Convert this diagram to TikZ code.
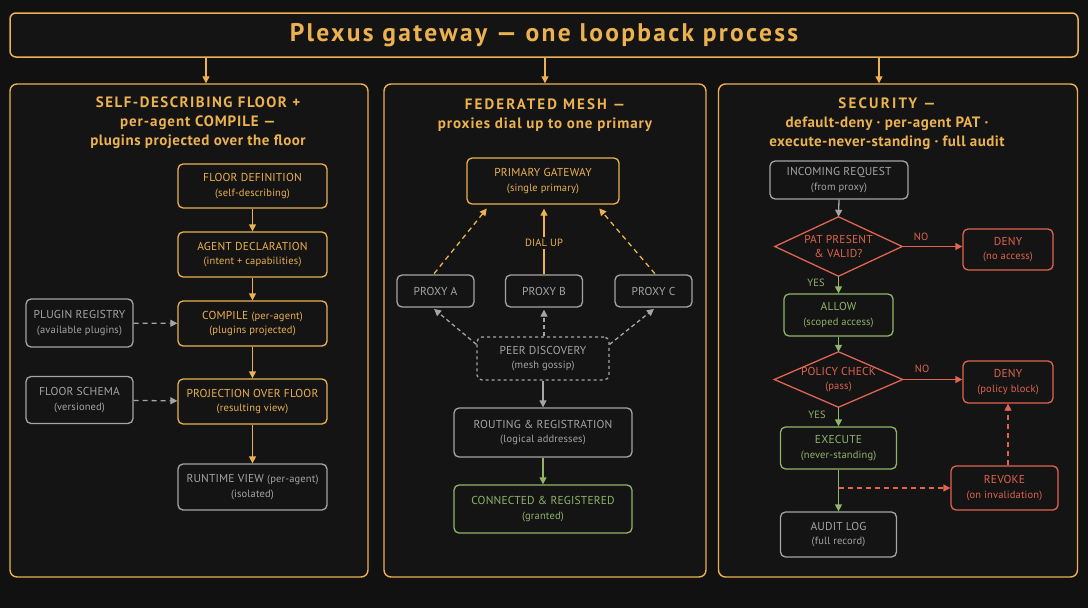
\documentclass[tikz,border=0pt]{standalone}
\usepackage{fontspec}
\setmainfont{PT Sans}
\newfontfamily\hdrfont{PT Sans}[LetterSpace=6]
\newfontfamily\ttlfont{PT Sans}[LetterSpace=9]
\newfontfamily\ndfont{PT Sans}[LetterSpace=1.5]
\newcommand\ls[1]{\addfontfeature{LetterSpace=#1}}
\usetikzlibrary{arrows.meta}
\definecolor{bg}{RGB}{17,17,17}
\definecolor{panelbg}{RGB}{20,20,20}
\definecolor{gold}{RGB}{236,178,80}
\definecolor{mygrey}{RGB}{165,165,165}
\definecolor{mygreen}{RGB}{145,180,105}
\definecolor{myred}{RGB}{224,100,80}
\newcommand\subf{\fontsize{10.5}{14}\selectfont}
\begin{document}
\begin{tikzpicture}[x=1pt,y=-1pt,
  panel/.style={draw=gold, line width=1.4pt, rounded corners=7pt, fill=panelbg, inner sep=0pt},
  hdr/.style={text=gold, align=center, font=\hdrfont\bfseries\fontsize{15}{19}\selectfont, inner sep=0pt},
  box/.style={draw, rounded corners=5pt, line width=1.3pt, fill=panelbg, align=center, inner sep=0pt, font=\ndfont\fontsize{11.5}{14.5}\selectfont},
  goldbox/.style={box, draw=gold, text=gold},
  greybox/.style={box, draw=mygrey, text=mygrey},
  greenbox/.style={box, draw=mygreen, text=mygreen},
  redbox/.style={box, draw=myred, text=myred},
  dia/.style={text=myred, align=center, inner sep=0pt, font=\ndfont\fontsize{11.5}{14.5}\selectfont},
  diaedge/.style={draw=myred, line width=1.3pt, fill=panelbg, line join=miter},
  lbl/.style={font=\ndfont\fontsize{10.5}{13}\selectfont, inner sep=2pt},
  tip/.style={-{Triangle[length=7pt,width=7pt]}},
  garrow/.style={tip, draw=gold, line width=1.3pt},
  grarrow/.style={tip, draw=mygrey, line width=1.3pt},
  gnarrow/.style={tip, draw=mygreen, line width=1.3pt},
  rdarrow/.style={tip, draw=myred, line width=1.3pt},
  dsh/.style={dash pattern=on 5pt off 4pt}
]
\fill[bg] (0,0) rectangle (1088,608);
\useasboundingbox (0,0) rectangle (1088,608);

% title
\node[draw=gold, rounded corners=6pt, line width=1.5pt, fill=panelbg, minimum width=1068, minimum height=44, text=gold, font=\ttlfont\bfseries\fontsize{25.5}{30}\selectfont] (title) at (544,35) {Plexus gateway — one loopback process};

% panels
\node[panel, minimum width=358, minimum height=493] (lp) at (189,330.5) {};
\node[panel, minimum width=322, minimum height=493] (mp) at (545,330.5) {};
\node[panel, minimum width=359, minimum height=493] (rp) at (898,330.5) {};

\coordinate (a1) at (206,0);
\coordinate (a2) at (545,0);
\coordinate (a3) at (879,0);
\draw[garrow] (title.south -| a1) -- (lp.north -| a1);
\draw[garrow] (title.south -| a2) -- (mp.north -| a2);
\draw[garrow] (title.south -| a3) -- (rp.north -| a3);

% headers
\node[hdr] (lh) at (198,123) {{\ls{10}SELF-DESCRIBING FLOOR +}\\{\ls{6}per-agent COMPILE —}\\{\ls{3.5}plugins projected over the floor}};
\node[hdr] (mh) at (545,115.5) {{\ls{14}FEDERATED MESH —}\\{\ls{6}proxies dial up to one primary}};
\node[hdr] (rh) at (887,123.5) {{\ls{15}SECURITY —}\\{\ls{3}default-deny · per-agent PAT ·}\\{\ls{3}execute-never-standing · full audit}};

% left panel
\node[goldbox, minimum width=149, minimum height=44] (fd) at (252.5,186) {FLOOR DEFINITION\\{\subf (self-describing)}};
\node[goldbox, minimum width=149, minimum height=45] (ad) at (252.5,254.5) {AGENT DECLARATION\\{\subf (intent + capabilities)}};
\node[goldbox, minimum width=149, minimum height=45] (cp) at (252.5,323.5) {COMPILE {\subf (per-agent)}\\{\subf (plugins projected)}};
\node[goldbox, minimum width=149, minimum height=45] (pj) at (252.5,401.5) {PROJECTION OVER FLOOR\\{\subf (resulting view)}};
\node[greybox, minimum width=149, minimum height=46] (rv) at (252.5,487) {RUNTIME VIEW {\subf (per-agent)}\\{\subf (isolated)}};
\node[greybox, minimum width=107, minimum height=48] (pr) at (79.5,323) {PLUGIN REGISTRY\\{\subf (available plugins)}};
\node[greybox, minimum width=107, minimum height=47] (fs) at (79.5,400) {FLOOR SCHEMA\\{\subf (versioned)}};

\draw[garrow] (fd) -- (ad);
\draw[garrow] (ad) -- (cp);
\draw[garrow] (cp) -- (pj);
\draw[garrow] (pj) -- (rv);
\draw[grarrow, dsh] (pr) -- (cp);
\draw[grarrow, dsh] (fs) -- (pj);

% middle panel
\node[goldbox, minimum width=152, minimum height=46] (pg) at (543,181) {PRIMARY GATEWAY\\{\subf (single primary)}};
\node[greybox, minimum width=77, minimum height=32] (pa) at (435.5,291) {PROXY A};
\node[greybox, minimum width=77, minimum height=32] (pb) at (544,291) {PROXY B};
\node[greybox, minimum width=77, minimum height=32] (pc) at (653.5,291) {PROXY C};
\node[lbl, text=gold, fill=panelbg] (du) at (544,243) {DIAL UP};
\draw[gold, line width=1.3pt] (pb.north) -- (du.south);
\draw[garrow, shorten >=4pt] (du.north) -- (du.north |- pg.south);
\draw[garrow, dsh, shorten >=5pt, shorten <=1pt] ([xshift=-2pt]pa.north) -- ([xshift=-53pt]pg.south);
\draw[garrow, dsh, shorten >=5pt, shorten <=1pt] ([xshift=2pt]pc.north) -- ([xshift=53pt]pg.south);

\node[greybox, dashed, minimum width=132, minimum height=43] (pd) at (543,358.5) {PEER DISCOVERY\\{\subf (mesh gossip)}};
\draw[grarrow, dash pattern=on 4pt off 3pt, shorten >=2pt] ([yshift=-8pt]pd.north west) -- ([xshift=-3pt]pa.south);
\draw[grarrow, dash pattern=on 4pt off 3pt, shorten >=2pt] (pd.north -| pb.south) -- (pb.south);
\draw[grarrow, dash pattern=on 4pt off 3pt, shorten >=2pt] ([yshift=-8pt]pd.north east) -- ([xshift=2pt]pc.south);

\node[greybox, minimum width=178, minimum height=49] (rr) at (543,432.5) {ROUTING \& REGISTRATION\\{\subf (logical addresses)}};
\node[greenbox, minimum width=178, minimum height=48] (cr) at (543,509) {CONNECTED \& REGISTERED\\{\subf (granted)}};
\draw[grarrow] (pd) -- (rr);
\draw[gnarrow] (rr) -- (cr);

% right panel
\node[greybox, minimum width=138, minimum height=38] (ir) at (839,180) {INCOMING REQUEST\\{\subf (from proxy)}};
\node[dia, minimum width=127, minimum height=59] (d1) at (838.5,246.5) {};
\draw[diaedge] (d1.west) -- (d1.north) -- (d1.east) -- (d1.south) -- cycle;
\node[dia] (d1t) at (d1.center) {PAT PRESENT\\\& VALID?};
\node[redbox, minimum width=90, minimum height=41] (dn1) at (1008,249.5) {DENY\\{\subf (no access)}};
\node[greenbox, minimum width=109, minimum height=42] (al) at (838.5,315) {ALLOW\\{\subf (scoped access)}};
\node[dia, minimum width=128, minimum height=55] (d2) at (838.5,379.5) {};
\draw[diaedge] (d2.west) -- (d2.north) -- (d2.east) -- (d2.south) -- cycle;
\node[dia] (d2t) at (d2.center) {POLICY CHECK\\{\subf (pass)}};
\node[redbox, minimum width=90, minimum height=42] (dn2) at (1008,382) {DENY\\{\subf (policy block)}};
\node[greenbox, minimum width=116, minimum height=42] (ex) at (838.5,448) {EXECUTE\\{\subf (never-standing)}};
\node[redbox, minimum width=107, minimum height=44] (rk) at (1004.5,488) {REVOKE\\{\subf (on invalidation)}};
\node[greybox, minimum width=116, minimum height=45] (au) at (838.5,534.5) {AUDIT LOG\\{\subf (full record)}};

\node[lbl, text=myred] (no1) at (921,237) {NO};
\node[lbl, text=mygreen] (yes1) at (816,283) {YES};
\node[lbl, text=myred] (no2) at (922,369) {NO};
\node[lbl, text=mygreen] (yes2) at (817,415) {YES};

\draw[grarrow] (ir.south) -- (d1.north);
\draw[rdarrow] (d1.east) -- (d1.east -| dn1.west);
\draw[gnarrow] (d1.south) -- (al.north);
\draw[gnarrow] (al.south) -- (d2.north);
\draw[rdarrow] (d2.east) -- (d2.east -| dn2.west);
\draw[gnarrow] (d2.south) -- (ex.north);
\draw[gnarrow] (ex) -- (au);
\coordinate (br) at (ex.south |- rk.west);
\draw[rdarrow, dsh] (br) -- (rk.west);
\draw[rdarrow, dsh] (rk.north -| dn2.south) -- (dn2.south);
\end{tikzpicture}
\end{document}
